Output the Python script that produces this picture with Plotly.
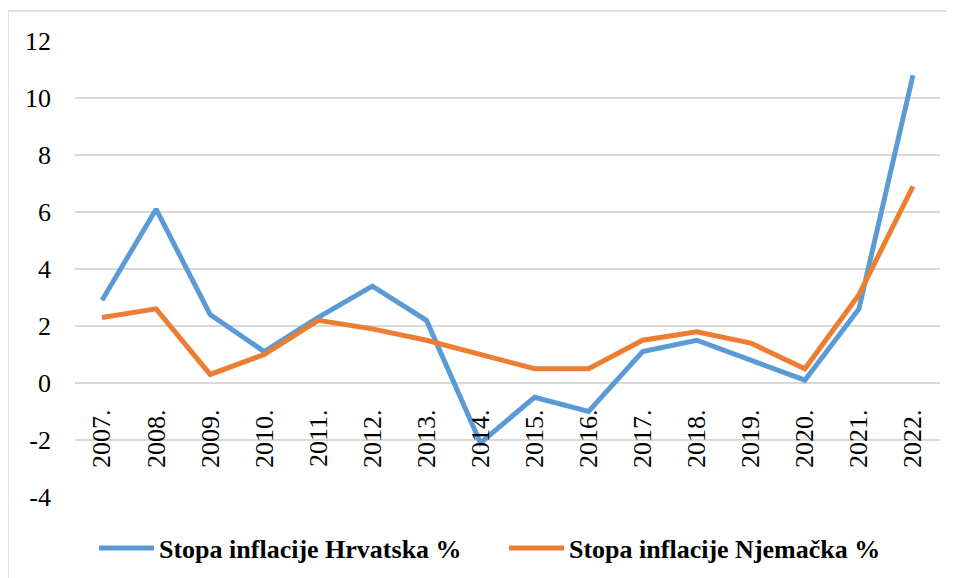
import plotly.graph_objects as go

years = ["2007.", "2008.", "2009.", "2010.", "2011.", "2012.", "2013.", "2014.",
         "2015.", "2016.", "2017.", "2018.", "2019.", "2020.", "2021.", "2022."]
hrvatska = [2.9, 6.1, 2.4, 1.1, 2.3, 3.4, 2.2, -2.1, -0.5, -1.0, 1.1, 1.5, 0.8, 0.1, 2.6, 10.8]
njemacka = [2.3, 2.6, 0.3, 1.0, 2.2, 1.9, 1.5, 1.0, 0.5, 0.5, 1.5, 1.8, 1.4, 0.5, 3.1, 6.9]
y_ticks = [-4, -2, 0, 2, 4, 6, 8, 10, 12]
y_ticktext = ["-4", "-2", "0", "2", "4", "6", "8", "10", "12"]

FONT = "Liberation Serif, Times New Roman, DejaVu Serif, serif"

fig = go.Figure()
fig.add_trace(go.Scatter(x=years, y=hrvatska, mode="lines", name="Stopa inflacije Hrvatska %",
                         line=dict(color="#5B9BD5", width=5)))
fig.add_trace(go.Scatter(x=years, y=njemacka, mode="lines", name="Stopa inflacije Njemačka %",
                         line=dict(color="#ED7D31", width=5)))

# page body has an 8px margin, so figure coords = screen coords - 8
OFF = 8
W, H = 955 - OFF, 578 - OFF
L, R, T, B = 75 - OFF, 15, 41 - OFF, 578 - 497
pw, ph = W - L - R, H - T - B

def px_x(p):
    return (p - OFF - L) / pw

def px_y(p):
    return (H + OFF - B - p) / ph

fig.update_layout(
    width=W, height=H,
    margin=dict(l=L, r=R, t=T, b=B, pad=0, autoexpand=False),
    paper_bgcolor="white", plot_bgcolor="white",
    font=dict(family=FONT, size=26, color="black"),
    showlegend=True,
    legend=dict(orientation="h", x=px_x(94), xanchor="left", y=px_y(548), yanchor="middle",
                font=dict(family=FONT, size=26, color="black", weight="bold"),
                itemwidth=55, entrywidth=340, bgcolor="rgba(0,0,0,0)"),
    xaxis=dict(type="category", showgrid=False, showline=False, zeroline=False,
               tickangle=-90, anchor="free", position=0.25,
               ticks="outside", ticklen=15, tickcolor="rgba(0,0,0,0)",
               tickfont=dict(family=FONT, size=26, color="black"),
               range=[-0.5, 15.5]),
    yaxis=dict(range=[-4, 12], tickvals=y_ticks, ticktext=y_ticktext,
               showgrid=True, gridcolor="#D9D9D9", gridwidth=1.5,
               zeroline=False, showline=False, ticks="", ticklabelstandoff=23,
               tickfont=dict(family=FONT, size=26, color="black")),
    shapes=[dict(type="rect", xref="paper", yref="paper",
                 x0=px_x(8), x1=px_x(980), y0=px_y(600), y1=px_y(11),
                 line=dict(color="#D9D9D9", width=1.5), fillcolor="rgba(0,0,0,0)", layer="below")],
)

fig.write_html("out.html")
